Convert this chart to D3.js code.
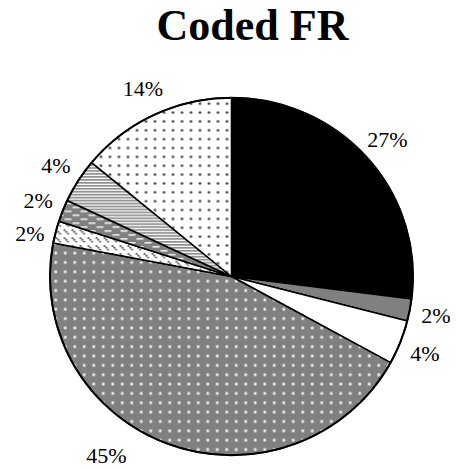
<!DOCTYPE html>
<html>
<head>
<meta charset="utf-8">
<script src="https://cdn.jsdelivr.net/npm/d3@7"></script>
<style>
  html, body { margin: 0; padding: 0; background: #fff; }
  svg { display: block; }
</style>
</head>
<body>
<svg id="chart" width="456" height="469"></svg>
<script>
// Share of each code, clockwise from 12 o'clock
const categories = ["A", "B", "C", "D", "E", "F", "G", "H"];
const shares = [27, 2, 4, 45, 2, 2, 4, 14];
const labels = ["27%", "2%", "4%", "45%", "2%", "2%", "4%", "14%"];
const fills = ["solid-black", "solid-gray", "solid-white", "gray-dots", "diag-dots", "gray-dash", "h-stripes", "white-dots"];
const title = "Coded FR";

const W = 456, H = 469;
const cx = 231.5, cy = 276.5, rx = 181.5, ry = 178.7;
const labelR = 208;
const font = "'Liberation Serif', 'Times New Roman', serif";

const svg = d3.select("#chart");
const defs = svg.append("defs");

// Fill patterns
function pattern(id, w, h, draw) {
  const p = defs.append("pattern").attr("id", id)
    .attr("patternUnits", "userSpaceOnUse").attr("width", w).attr("height", h);
  draw(p);
}
pattern("solid-black", 4, 4, p => p.append("rect").attr("width", 4).attr("height", 4).attr("fill", "#000"));
pattern("solid-gray", 4, 4, p => p.append("rect").attr("width", 4).attr("height", 4).attr("fill", "#808080"));
pattern("solid-white", 4, 4, p => p.append("rect").attr("width", 4).attr("height", 4).attr("fill", "#fff"));
pattern("gray-dots", 9.5, 9.5, p => {
  p.append("rect").attr("width", 9.5).attr("height", 9.5).attr("fill", "#808080");
  p.append("circle").attr("cx", 4.75).attr("cy", 4.75).attr("r", 1.8).attr("fill", "#bdbdbd");
  p.append("circle").attr("cx", 4.75).attr("cy", 4.75).attr("r", 1.0).attr("fill", "#fff");
});
pattern("white-dots", 9, 9, p => {
  p.append("rect").attr("width", 9).attr("height", 9).attr("fill", "#fff");
  p.append("circle").attr("cx", 4.5).attr("cy", 4.5).attr("r", 1.3).attr("fill", "#333");
});
pattern("h-stripes", 6, 3, p => {
  p.append("rect").attr("width", 6).attr("height", 3).attr("fill", "#fff");
  p.append("rect").attr("width", 6).attr("height", 1.7).attr("fill", "#8c8c8c");
});
pattern("gray-dash", 16, 8, p => {
  p.append("rect").attr("width", 16).attr("height", 8).attr("fill", "#808080");
  p.append("rect").attr("x", 1).attr("y", 1).attr("width", 7).attr("height", 1.6).attr("fill", "#eee");
  p.append("rect").attr("x", 9).attr("y", 5).attr("width", 7).attr("height", 1.6).attr("fill", "#eee");
});
pattern("diag-dots", 8, 8, p => {
  p.append("rect").attr("width", 8).attr("height", 8).attr("fill", "#fff");
  [[1, 1], [2.8, 2.8], [4.6, 4.6]].forEach(([x, y]) =>
    p.append("circle").attr("cx", x).attr("cy", y).attr("r", 0.95).attr("fill", "#333"));
});

// Title
svg.append("text")
  .attr("x", 252.5).attr("y", 40)
  .attr("text-anchor", "middle")
  .attr("font-family", font).attr("font-weight", "bold").attr("font-size", 44)
  .text(title);

// Pie
const data = categories.map((c, i) => ({ cat: c, value: shares[i], label: labels[i], fill: fills[i] }));
const pie = d3.pie().value(d => d.value).sort(null);
const arcs = pie(data);
const arc = d3.arc().innerRadius(0).outerRadius(rx);

const g = svg.append("g")
  .attr("transform", `translate(${cx},${cy}) scale(1,${ry / rx})`);

g.selectAll("path.slice")
  .data(arcs)
  .join("path")
  .attr("class", "slice")
  .attr("d", arc)
  .attr("fill", d => `url(#${d.data.fill})`)
  .attr("stroke", "#000")
  .attr("stroke-width", 1.6)
  .attr("stroke-linejoin", "round");

// Rim
g.append("ellipse").attr("rx", rx).attr("ry", rx)
  .attr("fill", "none").attr("stroke", "#000").attr("stroke-width", 2);

// Labels: outside the rim at the slice's mid angle
const fs = 22, halfH = fs * 0.36, minGap = 33;
const placed = arcs.map(d => {
  const a = (d.startAngle + d.endAngle) / 2;
  let x = cx + labelR * Math.sin(a), y = cy - labelR * Math.cos(a);
  if (y + halfH > H - 6) {
    // too low for the canvas: lift to the bottom edge and slide outward
    y = H - 6 - halfH;
    const r2 = labelR + 10, dy = y - cy;
    x = cx + Math.sign(Math.sin(a)) * Math.sqrt(r2 * r2 - dy * dy);
  }
  return { x, y, a, text: d.data.label };
});

// Keep stacked labels on the left side from overlapping
const left = placed.filter(p => Math.sin(p.a) < 0 && p.y < cy).sort((p, q) => p.y - q.y);
for (let i = 1; i < left.length; i++) {
  if (left[i].y - left[i - 1].y < minGap) left[i].y = left[i - 1].y + minGap;
}

svg.selectAll("text.pct")
  .data(placed)
  .join("text")
  .attr("class", "pct")
  .attr("x", p => p.x).attr("y", p => p.y)
  .attr("dy", "0.35em")
  .attr("text-anchor", "middle")
  .attr("font-family", font).attr("font-size", fs)
  .text(p => p.text);
</script>
</body>
</html>
